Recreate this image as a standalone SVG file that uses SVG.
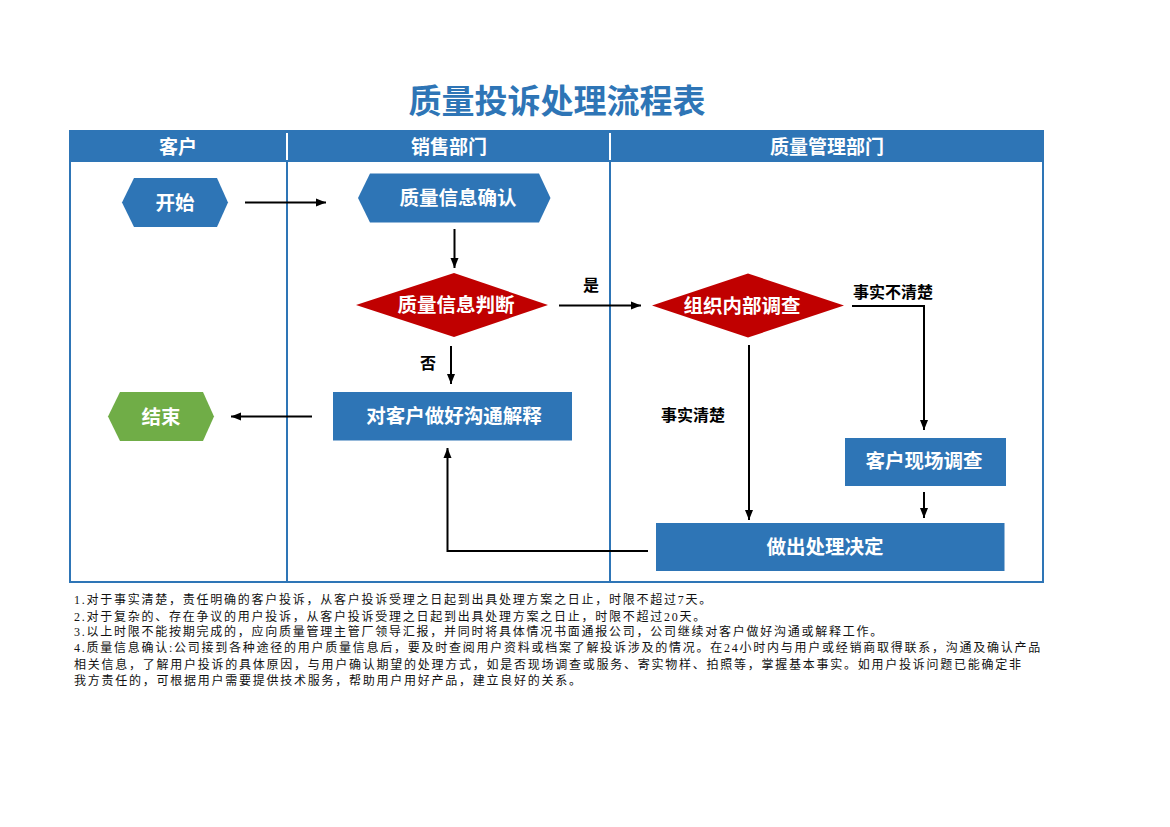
<svg xmlns="http://www.w3.org/2000/svg" width="1170" height="827" viewBox="0 0 1170 827">
<defs>
<style>
.t{font-family:"Liberation Sans","Noto Sans CJK SC",sans-serif;font-weight:bold;text-anchor:middle;dominant-baseline:central}
.w{fill:#fff;font-size:19.5px}
.h{fill:#fff;font-size:19px}
.lb{fill:#000;font-size:16px}
.c{fill:none;stroke:#000;stroke-width:2;marker-end:url(#ah)}
.note{font-family:"Liberation Serif","Noto Sans CJK SC",serif;font-size:12px;letter-spacing:1.75px;fill:#111}
.blue{fill:#2e75b6}
</style>
<marker id="ah" viewBox="0 0 10 10" refX="10" refY="5" markerWidth="10" markerHeight="10" markerUnits="userSpaceOnUse" orient="auto"><path d="M0,1 L10,5 L0,9 z" fill="#000"/></marker>
</defs>
<rect width="1170" height="827" fill="#fff"/>
<text class="t" x="557" y="101" fill="#2e75b6" style="font-size:33px">质量投诉处理流程表</text>
<g id="table">
<rect x="70" y="131" width="973" height="451" fill="none" stroke="#2e75b6" stroke-width="2"/>
<rect x="69" y="130" width="975" height="32" class="blue"/>
<line x1="287" y1="133" x2="287" y2="160" stroke="#fff" stroke-width="2"/>
<line x1="610" y1="133" x2="610" y2="160" stroke="#fff" stroke-width="2"/>
<line x1="287" y1="162" x2="287" y2="582" stroke="#2e75b6" stroke-width="2"/>
<line x1="610" y1="162" x2="610" y2="582" stroke="#2e75b6" stroke-width="2"/>
<text class="t h" x="178" y="147">客户</text>
<text class="t h" x="449" y="147">销售部门</text>
<text class="t h" x="827" y="147">质量管理部门</text>
</g>
<g id="start">
<polygon points="122,202.5 134,178 217,178 228,202.5 217,227 134,227" class="blue"/>
<text class="t w" x="175" y="203">开始</text>
</g>
<g id="confirm">
<polygon points="358,198 370,173.5 539,173.5 550.5,198 539,222.5 370,222.5" class="blue"/>
<text class="t w" x="458" y="198">质量信息确认</text>
</g>
<g id="judge">
<polygon points="356,305 454,273 548,305 454,337" fill="#c00000"/>
<text class="t w" x="456" y="305">质量信息判断</text>
</g>
<g id="explain">
<rect x="333" y="392" width="239" height="48.5" class="blue"/>
<text class="t w" x="454" y="416">对客户做好沟通解释</text>
</g>
<g id="end">
<polygon points="108,416.5 120,392 203,392 214,416.5 203,441 120,441" fill="#70ad47"/>
<text class="t w" x="161" y="417">结束</text>
</g>
<g id="investigate">
<polygon points="652,305.5 748,273.5 844,305.5 748,337.5" fill="#c00000"/>
<text class="t w" x="742" y="306">组织内部调查</text>
</g>
<g id="onsite">
<rect x="845" y="438" width="161" height="48" class="blue"/>
<text class="t w" x="924" y="461">客户现场调查</text>
</g>
<g id="decide">
<rect x="656" y="523" width="348.5" height="48" class="blue"/>
<text class="t w" x="825" y="547">做出处理决定</text>
</g>
<g id="connectors">
<path class="c" d="M245,202.5 L326,202.5"/>
<path class="c" d="M454.5,229 L454.5,268"/>
<path class="c" d="M559,305.5 L641,305.5"/>
<path class="c" d="M451,346 L451,384"/>
<path class="c" d="M312,416.5 L231,416.5"/>
<path class="c" d="M749,345 L749,520"/>
<path class="c" d="M852,306 L924,306 L924,430"/>
<path class="c" d="M924,492 L924,518"/>
<path class="c" d="M648,551 L447.5,551 L447.5,448"/>
<text class="t lb" x="591" y="285">是</text>
<text class="t lb" x="428" y="363">否</text>
<text class="t lb" x="893" y="292">事实不清楚</text>
<text class="t lb" x="693" y="415">事实清楚</text>
</g>
<g id="notes">
<text class="note" x="74" y="604">1.对于事实清楚，责任明确的客户投诉，从客户投诉受理之日起到出具处理方案之日止，时限不超过7天。</text>
<text class="note" x="74" y="621">2.对于复杂的、存在争议的用户投诉，从客户投诉受理之日起到出具处理方案之日止，时限不超过20天。</text>
<text class="note" x="74" y="636">3.以上时限不能按期完成的，应向质量管理主管厂领导汇报，并同时将具体情况书面通报公司，公司继续对客户做好沟通或解释工作。</text>
<text class="note" x="74" y="652">4.质量信息确认:公司接到各种途径的用户质量信息后，要及时查阅用户资料或档案了解投诉涉及的情况。在24小时内与用户或经销商取得联系，沟通及确认产品</text>
<text class="note" x="74" y="669">相关信息，了解用户投诉的具体原因，与用户确认期望的处理方式，如是否现场调查或服务、寄实物样、拍照等，掌握基本事实。如用户投诉问题已能确定非</text>
<text class="note" x="74" y="685">我方责任的，可根据用户需要提供技术服务，帮助用户用好产品，建立良好的关系。</text>
</g>
</svg>
